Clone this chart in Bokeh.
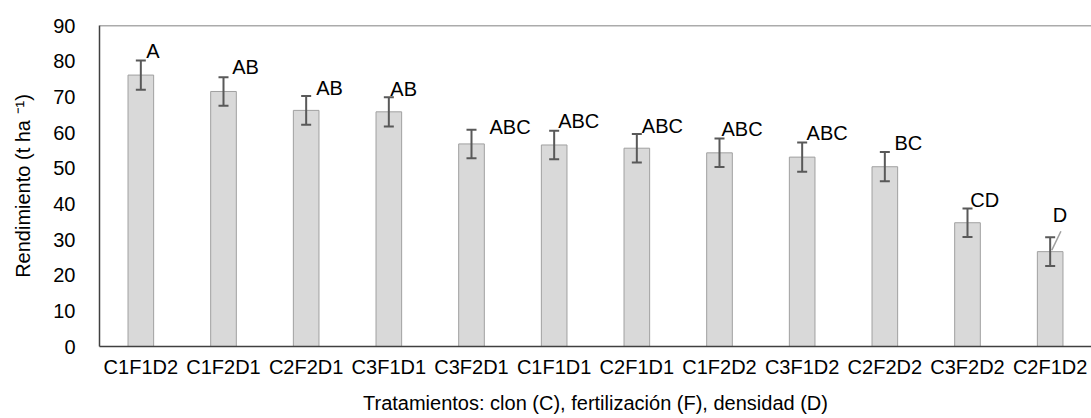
from bokeh.plotting import figure
from bokeh.models import (FactorRange, Range1d, ColumnDataSource, Span,
                          Whisker, TeeHead, LabelSet, FixedTicker)
from bokeh.core.properties import value
from bokeh.transform import dodge
from bokeh.embed import file_html
from bokeh.resources import INLINE

treatments = ["C1F1D2", "C1F2D1", "C2F2D1", "C3F1D1", "C3F2D1", "C1F1D1",
              "C2F1D1", "C1F2D2", "C3F1D2", "C2F2D2", "C3F2D2", "C2F1D2"]
yield_t_ha = [76.1, 71.5, 66.2, 65.8, 56.8, 56.5, 55.6, 54.3, 53.1, 50.4, 34.7, 26.6]
std_error = [4.1, 4.0, 4.0, 4.1, 4.0, 4.0, 4.0, 4.0, 4.1, 4.1, 4.0, 4.0]
letters = ["A", "AB", "AB", "AB", "ABC", "ABC", "ABC", "ABC", "ABC", "BC", "CD", "D"]
y_ticks = [0, 10, 20, 30, 40, 50, 60, 70, 80, 90]

# label placement (style, screen pixels)
label_dx = [5.5, 8.7, 10, 1.5, 18, 4, 5, 2, 4.4, 9.7, 2.7, 2.5]
label_dy = [2, 3.6, 1.4, 1, -4, 2.3, 1, 2.3, 2, 1.7, 1.3, 15]

FONT = "Liberation Sans"

upper = [v + e for v, e in zip(yield_t_ha, std_error)]
lower = [v - e for v, e in zip(yield_t_ha, std_error)]
src = ColumnDataSource(dict(cat=treatments, val=yield_t_ha, upper=upper, lower=lower,
                            txt=letters, dx=label_dx, dy=label_dy))

p = figure(x_range=FactorRange(factors=treatments, range_padding=0, start=0, end=12),
           y_range=Range1d(0, 90), width=1091, height=418,
           output_backend="svg", toolbar_location=None,
           min_border_left=99, min_border_top=25, min_border_right=0, min_border_bottom=72)
p.outline_line_color = None
p.xgrid.grid_line_color = None
p.ygrid.grid_line_color = None
p.background_fill_color = "white"
p.border_fill_color = "white"

p.vbar(x="cat", top="val", width=0.31, source=src, fill_color="#d9d9d9",
       line_color="#a0a0a0", line_width=1)

w = Whisker(base="cat", upper="upper", lower="lower", source=src, level="overlay",
            line_color="#595959", line_width=2,
            upper_head=TeeHead(size=10, line_color="#595959", line_width=2),
            lower_head=TeeHead(size=10, line_color="#595959", line_width=2))
p.add_layout(w)

# leader line for the last label
lead = ColumnDataSource(dict(cat=[treatments[-1]], y0=[yield_t_ha[-1] + 0.4],
                             y1=[upper[-1] + 1.7]))
p.segment(x0=dodge("cat", 0.02, range=p.x_range), y0="y0",
          x1=dodge("cat", 0.13, range=p.x_range), y1="y1",
          source=lead, line_color="#a0a0a0", line_width=1.5)

labels = LabelSet(x="cat", y="upper", text="txt", x_offset="dx", y_offset="dy",
                  source=src, text_font=value(FONT), text_font_size="20px",
                  text_color="black", text_baseline="alphabetic", text_align="left")
p.add_layout(labels)

# top border line
p.add_layout(Span(location=y_ticks[-1], dimension="width", line_color="#595959",
                  line_width=1.5))

# y axis
p.yaxis.ticker = FixedTicker(ticks=y_ticks)
p.yaxis.major_tick_line_color = None
p.yaxis.minor_tick_line_color = None
p.yaxis.major_tick_out = 0
p.yaxis.major_label_standoff = 24
p.yaxis.axis_line_color = "#404040"
p.yaxis.axis_line_width = 1.5
p.yaxis.major_label_text_font = FONT
p.yaxis.major_label_text_font_size = "20px"
p.yaxis.major_label_text_color = "black"
p.yaxis.axis_label = "Rendimiento (t ha ⁻¹)"
p.yaxis.axis_label_text_font = FONT
p.yaxis.axis_label_text_font_size = "20px"
p.yaxis.axis_label_text_font_style = "normal"
p.yaxis.axis_label_text_color = "black"
p.yaxis.axis_label_standoff = 16

# x axis
p.xaxis.major_tick_line_color = None
p.xaxis.major_tick_out = 0
p.xaxis.major_label_standoff = 9
p.xaxis.axis_line_color = "#404040"
p.xaxis.axis_line_width = 1.5
p.xaxis.major_label_text_font = FONT
p.xaxis.major_label_text_font_size = "20px"
p.xaxis.major_label_text_color = "black"
p.xaxis.axis_label = "Tratamientos: clon (C), fertilización (F), densidad (D)"
p.xaxis.axis_label_text_font = FONT
p.xaxis.axis_label_text_font_size = "20px"
p.xaxis.axis_label_text_font_style = "normal"
p.xaxis.axis_label_text_color = "black"
p.xaxis.axis_label_standoff = 11

open("out.html", "w").write(file_html(p, INLINE))
